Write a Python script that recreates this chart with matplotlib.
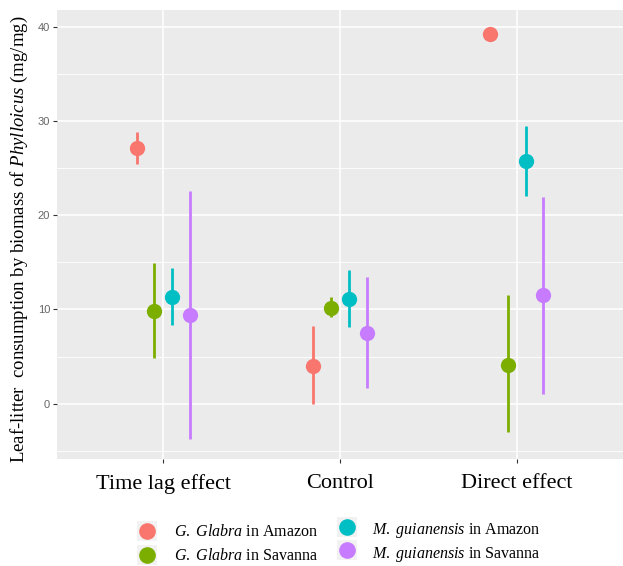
import matplotlib
matplotlib.use("Agg")
import matplotlib.pyplot as plt
from matplotlib.lines import Line2D
from matplotlib.patches import Rectangle
import numpy as np

plt.rcParams['mathtext.fontset'] = 'custom'
plt.rcParams['mathtext.rm'] = 'Liberation Serif'
plt.rcParams['mathtext.it'] = 'Liberation Serif:italic'

categories = ["Time lag effect", "Control", "Direct effect"]
series = ["G. Glabra in Amazon", "G. Glabra in Savanna",
          "M. guianensis in Amazon", "M. guianensis in Savanna"]
series_labels = [r"$\mathit{G.\ Glabra}$ in Amazon", r"$\mathit{G.\ Glabra}$ in Savanna",
                 r"$\mathit{M.\ guianensis}$ in Amazon", r"$\mathit{M.\ guianensis}$ in Savanna"]
colors = ["#F8766D", "#7CAE00", "#00BFC4", "#C77CFF"]

# mean values per series (order: Time lag, Control, Direct)
gg_amazon = [27.1, 4.0, 39.2]
gg_savanna = [9.8, 10.2, 4.1]
mg_amazon = [11.3, 11.1, 25.7]
mg_savanna = [9.4, 7.5, 11.5]
means = [gg_amazon, gg_savanna, mg_amazon, mg_savanna]

gg_amazon_lo = [25.4, 0.0, 38.8]
gg_amazon_hi = [28.8, 8.2, 39.6]
gg_savanna_lo = [4.8, 9.2, -3.0]
gg_savanna_hi = [14.9, 11.3, 11.5]
mg_amazon_lo = [8.3, 8.1, 22.0]
mg_amazon_hi = [14.4, 14.2, 29.5]
mg_savanna_lo = [-3.7, 1.7, 1.0]
mg_savanna_hi = [22.6, 13.4, 21.9]
lows = [gg_amazon_lo, gg_savanna_lo, mg_amazon_lo, mg_savanna_lo]
highs = [gg_amazon_hi, gg_savanna_hi, mg_amazon_hi, mg_savanna_hi]

yticks = [0, 10, 20, 30, 40]

W, H = 623, 566
fig = plt.figure(figsize=(W / 100, H / 100), dpi=100)
ax = fig.add_axes([57 / W, 1 - 459 / H, (W - 57) / W, (459 - 10) / H])
ax.set_facecolor("#EBEBEB")
for s in ax.spines.values():
    s.set_visible(False)

ax.set_xlim(-0.6, 2.6)
ax.set_ylim(-5.87, 41.77)
ax.set_yticks(yticks)
ax.set_yticks([-5, 5, 15, 25, 35], minor=True)
ax.set_xticks(range(len(categories)))
ax.set_xticklabels(categories, fontsize=16, family="Liberation Serif", color="black")
ax.grid(True, which="major", color="white", linewidth=1.1)
ax.grid(True, which="minor", axis="y", color="white", linewidth=0.6)
ax.set_axisbelow(True)
ax.tick_params(axis="both", which="major", length=3, color="#333333", width=0.8)
ax.tick_params(axis="y", which="minor", length=0)
ax.tick_params(axis="y", labelsize=8, labelcolor="#666666", pad=2)
ax.tick_params(axis="x", pad=8)
for lab in ax.get_yticklabels():
    lab.set_family("Liberation Sans")

x = np.arange(len(categories))
dodge = 0.4
n = len(series)
for i in range(n):
    off = dodge * ((i + 0.5) / n - 0.5)
    xs = x + off
    ax.vlines(xs, lows[i], highs[i], color=colors[i], linewidth=2.0, zorder=2)
    ax.plot(xs, means[i], "o", color=colors[i], markersize=11, zorder=3,
            markeredgewidth=0)

ax.set_ylabel(r"Leaf-litter  consumption by biomass of $\mathit{Phylloicus}$ (mg/mg)",
              fontsize=13.5, family="Liberation Serif")
ax.yaxis.set_label_coords(-27 / (W - 57), 0.49)

# legend (drawn manually)
key_pos = [(147, 531), (147, 555), (347, 527), (347, 550)]
text_pos = [(174, 532), (174, 556), (372, 531), (372, 555)]
ks = 20
for i in range(n):
    kx, ky = key_pos[i]
    fig.add_artist(Rectangle(((kx - ks / 2) / W, 1 - (ky + ks / 2) / H), ks / W, ks / H,
                             transform=fig.transFigure, facecolor="#F2F2F2",
                             edgecolor="none"))
    fig.add_artist(Line2D([kx / W], [1 - ky / H], marker="o", markersize=12,
                          color=colors[i], markeredgewidth=0,
                          transform=fig.transFigure))
    tx, ty = text_pos[i]
    fig.text(tx / W, 1 - ty / H, series_labels[i], fontsize=11.5,
             family="Liberation Serif", va="center", ha="left")

fig.savefig("out.png", dpi=100)
